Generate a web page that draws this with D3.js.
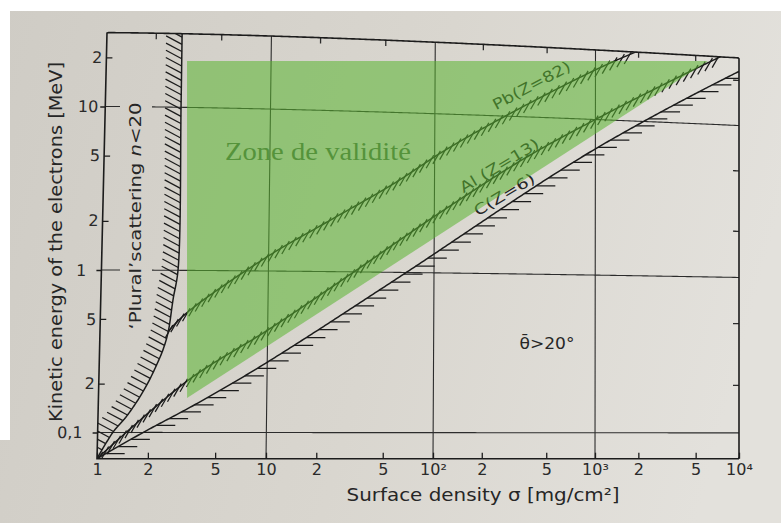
<!DOCTYPE html>
<html><head><meta charset="utf-8">
<script src="https://cdn.jsdelivr.net/npm/d3@7"></script>
<style>html,body{margin:0;padding:0;background:#fff}</style>
</head><body>
<svg id="c" width="781" height="523"></svg>
<script>
// ---------------- data ----------------
const sigmaDecades = [1, 10, 100, 1000, 10000];
const energyDecades = [0.1, 1, 10];
const sigmaRange = [1, 10000];
const energyRange = [0.069, 28.3];
const xTickValues = [1, 2, 5, 10, 20, 50, 100, 200, 500, 1000, 2000, 5000, 10000];
const xTickLabels = ["1", "2", "5", "10", "2", "5", "10²", "2", "5", "10³", "2", "5", "10⁴"];
const yTickValues = [0.1, 0.2, 0.5, 1, 2, 5, 10, 20];
const yTickLabels = ["0,1", "2", "5", "1", "2", "5", "10", "2"];
const gridSigma = [10, 100, 1000];
const gridEnergy = [0.1, 1, 10];

const pluralSigma  = [1, 1.23, 1.47, 1.72, 1.96, 2.18, 2.39, 2.55, 2.71, 2.88, 2.88, 2.87];
const pluralEnergy = [0.069, 0.1, 0.125, 0.159, 0.202, 0.256, 0.324, 0.414, 0.664, 1.01, 10.4, 28.3];
const pbSigma  = [2.55, 3.3, 10, 22.5, 56, 125, 965, 1900];
const pbEnergy = [0.42, 0.55, 1.24, 2.03, 3.55, 6.2, 20.6, 28.3];
const alSigma  = [1, 3.4, 10, 28, 108, 392, 1000, 7400];
const alEnergy = [0.069, 0.21, 0.43, 0.89, 2.38, 5.7, 10, 28.3];
const cSigma   = [1, 1.86, 3.9, 10, 68, 963, 10000];
const cEnergy  = [0.069, 0.1, 0.152, 0.272, 1.0, 6.3, 23];
const zoneSigma  = [3.41, 6100, 3.41];
const zoneEnergy = [19, 19, 0.163];

// ---------------- setup ----------------
const W = 781, H = 523;
const svg = d3.select('#c');
const x = d3.scaleLog().domain(sigmaDecades).range([97, 266, 433, 595, 739]);
const y = d3.scaleLog().domain(energyDecades).range([432.5, 270, 106.5]);
const xL = x(sigmaRange[0]), xR = x(sigmaRange[1]);
const yB = y(energyRange[0]), yT = y(energyRange[1]);

// photo perspective of the printed page
function warp(px, py) {
  const t = Math.min(1, Math.max(0, (px - xL) / (xR - xL)));
  const d = Math.max(0, yB - py);
  return [px + (1 - t) * (1 - t) * d * 10 / (yB - yT), py + Math.pow(t, 1.5) * 0.00288 * Math.pow(d, 1.5)];
}
function sampled(ptsPx, curve) {
  const p = svg.append('path').attr('fill', 'none').attr('d', d3.line().curve(curve || d3.curveLinear)(ptsPx));
  const node = p.node(), L = node.getTotalLength();
  const n = Math.max(2, Math.ceil(L / 2));
  const out = d3.range(n + 1).map(i => { const q = node.getPointAtLength(L * i / n); return warp(q.x, q.y); });
  p.remove();
  return out;
}
function hatchSegs(pts, spacing, offset, v, a, b) {
  const segs = []; let acc = 0, next = offset;
  for (let i = 1; i < pts.length; i++) {
    const [x0, y0] = pts[i - 1], [x1, y1] = pts[i];
    const l = Math.hypot(x1 - x0, y1 - y0);
    while (l > 0 && next <= acc + l) {
      const f = (next - acc) / l, px = x0 + f * (x1 - x0), py = y0 + f * (y1 - y0);
      segs.push([[px + a * v[0], py + a * v[1]], [px + b * v[0], py + b * v[1]]]);
      next += spacing;
    }
    acc += l;
  }
  return segs;
}
const line = d3.line();
const ink = '#1c1c1c';

// paper
const defs = svg.append('defs');
const grad = defs.append('linearGradient').attr('id', 'paper').attr('gradientUnits', 'userSpaceOnUse')
  .attr('x1', 0).attr('y1', 0).attr('x2', W).attr('y2', H * 0.4);
grad.append('stop').attr('offset', 0).attr('stop-color', '#cfccc5');
grad.append('stop').attr('offset', 0.55).attr('stop-color', '#d9d6cf');
grad.append('stop').attr('offset', 1).attr('stop-color', '#e3e1dc');
svg.append('rect').attr('width', W).attr('height', H).attr('fill', '#fff');
svg.append('rect').attr('x', 10).attr('y', 11).attr('width', W - 10).attr('height', H - 11).attr('fill', 'url(#paper)');
svg.append('rect').attr('x', 0).attr('y', 440).attr('width', 10).attr('height', H - 440).attr('fill', 'url(#paper)');

// frame + clip
const framePts = sampled([[xL, yB], [xL, yT], [xR, yT], [xR, yB], [xL, yB]]);
defs.append('clipPath').attr('id', 'frameClip').append('path').attr('d', line(framePts) + 'Z');

// grid
const gGrid = svg.append('g').attr('fill', 'none').attr('stroke', '#2c2c2c').attr('stroke-width', 1.1);
gridSigma.forEach(s => gGrid.append('path').attr('d', line(sampled([[x(s), yB], [x(s), yT]]))));
gridEnergy.forEach(e => gGrid.append('path').attr('d', line(sampled([[xL, y(e)], [xR, y(e)]]))));
// top and right minor ticks
xTickValues.filter(s => !sigmaDecades.includes(s)).forEach(s =>
  gGrid.append('path').attr('stroke-width', 1.3).attr('d', line(sampled([[x(s), yT], [x(s), yT + 6]]))));
yTickValues.filter(e => !energyDecades.includes(e)).forEach(e =>
  gGrid.append('path').attr('stroke-width', 1.3).attr('d', line(sampled([[xR - 6, y(e)], [xR, y(e)]]))));

// mask behind rotated label
svg.append('rect').attr('x', 120).attr('y', 100).attr('width', 32).attr('height', 234).attr('fill', 'url(#paper)');

// frame
svg.append('path').attr('d', line(framePts) + 'Z').attr('fill', 'none').attr('stroke', ink).attr('stroke-width', 1.6);

// axes
const skewDeg = Math.atan(-10 / (yB - yT)) * 180 / Math.PI;
const gy = svg.append('g').attr('transform', `translate(${xL},${yB}) skewX(${skewDeg}) translate(0,${-yB})`)
  .call(d3.axisLeft(y).tickValues(yTickValues).tickFormat((d, i) => yTickLabels[i]).tickSize(-6).tickPadding(4));
gy.select('.domain').remove();
gy.selectAll('.tick').each(function (d) {
  const t = d3.select(this);
  if (energyDecades.includes(d)) {
    t.select('line').attr('x2', -5);
    t.select('text').attr('x', d === 10 ? -7 : -15);
  }
});
const gx = svg.append('g').attr('transform', `translate(0,${yB})`)
  .call(d3.axisBottom(x).tickValues(xTickValues).tickFormat((d, i) => xTickLabels[i]).tickSize(-6).tickPadding(5));
gx.select('.domain').remove();
[gx, gy].forEach(g => {
  g.selectAll('line').attr('stroke', ink).attr('stroke-width', 1.3);
  g.selectAll('text').attr('fill', '#2a2a2a').style('font-family', 'DejaVu Sans').style('font-size', '16px');
});

// curves
const gc = svg.append('g').attr('clip-path', 'url(#frameClip)');
function drawCurve(sig, en, hatch) {
  const pts = sampled(sig.map((s, i) => [x(s), y(en[i])]), d3.curveCatmullRom.alpha(0.5));
  gc.append('path').attr('d', line(pts)).attr('fill', 'none').attr('stroke', ink).attr('stroke-width', 1.5);
  hatchSegs(pts, hatch.spacing, hatch.offset, hatch.v, hatch.a, hatch.b).forEach(s =>
    gc.append('path').attr('d', line(s)).attr('stroke', ink).attr('stroke-width', 1.25));
}
drawCurve(cSigma, cEnergy, { spacing: 14.5, offset: 10, v: [1, 0], a: 0, b: 19 });
drawCurve(alSigma, alEnergy, { spacing: 8, offset: 5, v: [-0.5, 0.866], a: -4, b: 11 });
drawCurve(pbSigma, pbEnergy, { spacing: 8, offset: 4, v: [-0.5, 0.866], a: -4, b: 11 });
drawCurve(pluralSigma, pluralEnergy, { spacing: 7.2, offset: 3, v: [-0.88, -0.47], a: 0, b: 18 });

// texts on the figure
const txt = (tx, ty, rot, str, size, len) => {
  const t = svg.append('text').attr('transform', `translate(${tx},${ty}) rotate(${rot})`)
    .attr('text-anchor', 'middle').attr('fill', '#262626')
    .style('font-family', 'DejaVu Sans').style('font-size', size + 'px').text(str);
  if (len) t.attr('textLength', len).attr('lengthAdjust', 'spacingAndGlyphs');
  return t;
};
txt(62, 242, -90, 'Kinetic energy of the electrons [MeV]', 17, 360);
txt(483, 501, 0, 'Surface density σ [mg/cm²]', 17, 273);
const pl = svg.append('text').attr('transform', 'translate(141,216) rotate(-90)').attr('text-anchor', 'middle')
  .attr('fill', '#262626').style('font-family', 'DejaVu Sans').style('font-size', '16px')
  .attr('textLength', 227).attr('lengthAdjust', 'spacingAndGlyphs');
pl.append('tspan').text('‘Plural’scattering ');
pl.append('tspan').style('font-style', 'italic').text('n');
pl.append('tspan').text('<20');
txt(547, 349, 0, 'θ̄>20°', 15, 55);
txt(534, 90, -28, 'Pb(Z=82)', 15, 86);
txt(502, 170, -31, 'Al (Z=13)', 15, 90);
txt(507, 199, -31, 'C(Z=6)', 15, 68);

// validity zone overlay
svg.append('path')
  .attr('d', d3.line()(zoneSigma.map((s, i) => [x(s), y(zoneEnergy[i])])) + 'Z')
  .attr('fill', 'rgb(89,180,47)').attr('fill-opacity', 0.55);
svg.append('text').attr('x', 225).attr('y', 160).attr('fill', '#55933b')
  .style('font-family', 'Liberation Serif').style('font-size', '25px')
  .attr('textLength', 186).attr('lengthAdjust', 'spacingAndGlyphs').text('Zone de validité');
</script>
</body></html>
